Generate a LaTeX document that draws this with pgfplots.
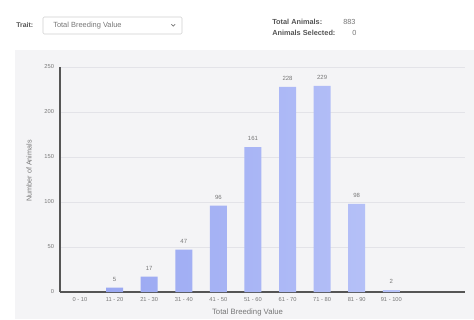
\documentclass[border=0pt]{standalone}
\usepackage{pgfplots}
\pgfplotsset{compat=1.18}
\usepackage{fontspec}
\setmainfont{Liberation Sans}
\definecolor{panel}{HTML}{F4F4F6}
\definecolor{txt}{HTML}{555555}
\definecolor{ticktxt}{HTML}{777777}
\definecolor{barL}{HTML}{9AA8F2}
\definecolor{barR}{HTML}{B8C3F8}
\definecolor{gridc}{HTML}{E3E3E8}
\definecolor{axisc}{HTML}{555555}
\begin{document}
\begin{tikzpicture}
\path[use as bounding box] (0,0) rectangle (355.5pt,-239.25pt);
\fill[white] (0,0) rectangle (355.5pt,-239.25pt);
\fill[panel] (11.25pt,-37.5pt) rectangle (355.5pt,-239.25pt);
% header
\node[anchor=west,inner sep=0,text=txt,font=\bfseries\fontsize{5.2}{6}\selectfont] at (12pt,-18.75pt) {Trait:};
\draw[draw=black!18,fill=white,rounded corners=1pt,line width=0.4pt] (32.25pt,-12.75pt) rectangle (136.5pt,-25.5pt);
\node[anchor=west,inner sep=0,text=ticktxt,font=\fontsize{5.6}{6}\selectfont] at (39.75pt,-19pt) {Total Breeding Value};
\draw[ticktxt,line width=0.5pt] (128.5pt,-18.2pt) -- (129.9pt,-19.6pt) -- (131.3pt,-18.2pt);
\node[anchor=west,inner sep=0,text=txt,font=\bfseries\fontsize{5.5}{6}\selectfont] at (204pt,-16.5pt) {Total Animals:};
\node[anchor=west,inner sep=0,text=ticktxt,font=\fontsize{5.5}{6}\selectfont] at (257.25pt,-16.5pt) {883};
\node[anchor=west,inner sep=0,text=txt,font=\bfseries\fontsize{5.5}{6}\selectfont] at (204pt,-24.75pt) {Animals Selected:};
\node[anchor=west,inner sep=0,text=ticktxt,font=\fontsize{5.5}{6}\selectfont] at (264pt,-24.75pt) {0};
\begin{axis}[
  at={(45pt,-219pt)}, anchor=south west,
  scale only axis, width=303.75pt, height=168.75pt,
  xmin=-0.578, xmax=11.13, ymin=0, ymax=250,
  axis lines=left,
  axis line style={-, draw=axisc, line width=1.1pt},
  xtick={0,...,9},
  xticklabels={0 - 10, 11 - 20, 21 - 30, 31 - 40, 41 - 50, 51 - 60, 61 - 70, 71 - 80, 81 - 90, 91 - 100},
  ytick={0,50,...,250},
  ymajorgrids, grid style={draw=gridc, line width=0.5pt},
  major tick length=0pt, tick style={draw=none},
  /pgf/number format/assume math mode=true,
  tick label style={font=\fontsize{4.3}{5}\selectfont, text=ticktxt},
  xticklabel style={yshift=-0.5pt},
  yticklabel style={xshift=-1pt},
  xlabel={Total Breeding Value},
  ylabel={Number of Animals},
  xlabel style={at={(axis description cs:0.463,-0.092)}, anchor=center, font=\fontsize{5.8}{6}\selectfont, text=ticktxt},
  ylabel style={at={(axis description cs:-0.0765,0.538)}, anchor=center, font=\fontsize{5.4}{6}\selectfont, text=ticktxt},
  ybar, bar width=12.75pt,
  nodes near coords,
  every node near coord/.append style={font=\fontsize{4.5}{5}\selectfont, text=ticktxt, yshift=1.2pt},
  clip=false,
]
\addplot[draw=none, left color=barL, right color=barR] coordinates {
  (1,5) (2,17) (3,47) (4,96) (5,161) (6,228) (7,229) (8,98) (9,2)
};
\end{axis}
\end{tikzpicture}
\end{document}
